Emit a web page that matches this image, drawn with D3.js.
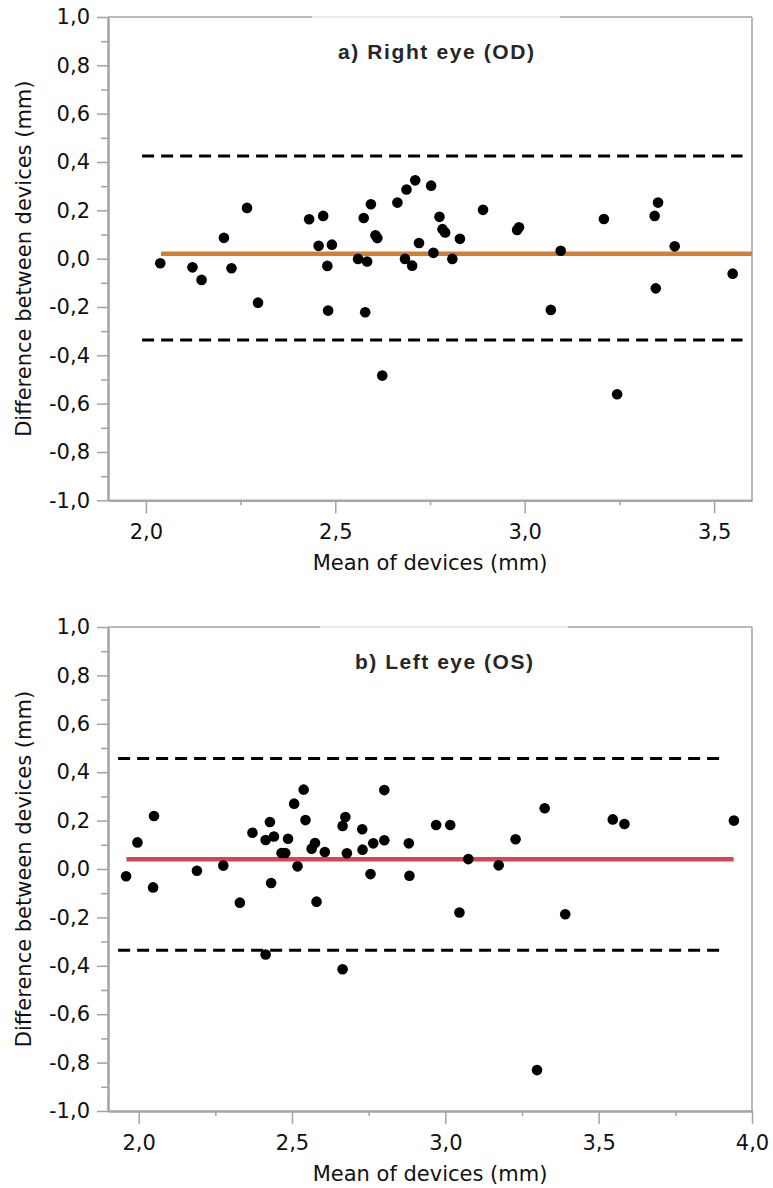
<!DOCTYPE html>
<html>
<head>
<meta charset="utf-8">
<script src="https://cdn.jsdelivr.net/npm/d3@7"></script>
<style>
  body { margin: 0; background: #fff; }
  svg { display: block; }
  .tick text { font-family: "DejaVu Sans", sans-serif; font-size: 21px; fill: #111; }
  .axis-title { font-family: "DejaVu Sans", sans-serif; font-size: 21px; fill: #111; }
  .panel-title { font-family: "Liberation Sans", Arial, sans-serif; font-size: 21px; font-weight: bold; fill: #262626; }
</style>
</head>
<body>
<div id="chart"></div>
<script>
// a) Right eye (OD): mean of devices vs difference between devices (mm)
const odMean = [2.038, 2.123, 2.147, 2.206, 2.226, 2.267, 2.296, 2.431, 2.468, 2.456,
  2.491, 2.479, 2.481, 2.560, 2.584, 2.575, 2.594, 2.606, 2.611, 2.579,
  2.624, 2.664, 2.688, 2.711, 2.753, 2.684, 2.703, 2.721, 2.759, 2.775,
  2.783, 2.790, 2.809, 2.829, 2.890, 2.980, 2.985, 3.095, 3.069, 3.209,
  3.343, 3.352, 3.346, 3.396, 3.549, 3.244];
const odDiff = [-0.019, -0.036, -0.088, 0.086, -0.040, 0.210, -0.182, 0.163, 0.177, 0.053,
  0.058, -0.030, -0.215, -0.001, -0.012, 0.168, 0.225, 0.097, 0.085, -0.222,
  -0.484, 0.232, 0.286, 0.324, 0.302, -0.001, -0.029, 0.065, 0.024, 0.173,
  0.122, 0.108, -0.001, 0.082, 0.202, 0.119, 0.130, 0.033, -0.212, 0.164,
  0.177, 0.232, -0.123, 0.051, -0.062, -0.561];
const odBias = [0.02];
const odLimits = [0.425, -0.337];
const odBiasRange = [2.04, 3.6];
const odLimitRange = [1.99, 3.575];

// b) Left eye (OS)
const osMean = [1.959, 1.996, 2.050, 2.047, 2.190, 2.276, 2.330, 2.371, 2.414, 2.414,
  2.428, 2.441, 2.432, 2.466, 2.478, 2.487, 2.507, 2.538, 2.544, 2.518,
  2.564, 2.575, 2.580, 2.607, 2.665, 2.674, 2.679, 2.665, 2.729, 2.730,
  2.765, 2.756, 2.801, 2.801, 2.881, 2.883, 2.970, 3.016, 3.075, 3.046,
  3.174, 3.229, 3.324, 3.391, 3.299, 3.546, 3.584, 3.941];
const osDiff = [-0.030, 0.110, 0.219, -0.076, -0.007, 0.014, -0.139, 0.150, -0.353, 0.120,
  0.194, 0.134, -0.058, 0.066, 0.066, 0.125, 0.270, 0.328, 0.202, 0.011,
  0.084, 0.107, -0.135, 0.070, 0.178, 0.215, 0.065, -0.414, 0.164, 0.080,
  0.106, -0.021, 0.326, 0.119, 0.106, -0.028, 0.182, 0.182, 0.041, -0.180,
  0.015, 0.123, 0.251, -0.187, -0.831, 0.205, 0.186, 0.200];
const osBias = [0.04];
const osLimits = [0.457, -0.336];
const osBiasRange = [1.96, 3.94];
const osLimitRange = [1.933, 3.895];

const yDomain = [-1.0, 1.0];
const yMajorTicks = [-1.0, -0.8, -0.6, -0.4, -0.2, 0.0, 0.2, 0.4, 0.6, 0.8, 1.0];
const yMinorTicks = [-0.9, -0.7, -0.5, -0.3, -0.1, 0.1, 0.3, 0.5, 0.7, 0.9];

const fmt = d3.formatLocale({ decimal: ",", thousands: ".", grouping: [3], currency: ["", ""], minus: "-" }).format(".1f");

const svg = d3.select("#chart").append("svg")
  .attr("width", 773)
  .attr("height", 1188);

function drawPanel(cfg) {
  const g = svg.append("g");
  const x = d3.scaleLinear().domain(cfg.xDomain).range([108, 752]);
  const y = d3.scaleLinear().domain(yDomain).range([cfg.bottom, cfg.top]);
  const axisColor = "#a3a3a3";

  // frame (top + right)
  g.append("line").attr("x1", 108).attr("x2", 752).attr("y1", cfg.top).attr("y2", cfg.top)
    .attr("stroke", axisColor).attr("stroke-width", 1.5);
  g.append("line").attr("x1", cfg.titleX - 124).attr("x2", cfg.titleX + 124).attr("y1", cfg.top).attr("y2", cfg.top)
    .attr("stroke", "#ececec").attr("stroke-width", 2);
  g.append("line").attr("x1", 752).attr("x2", 752).attr("y1", cfg.top).attr("y2", cfg.bottom)
    .attr("stroke", axisColor).attr("stroke-width", 1.5);

  // y axis
  g.append("g").attr("transform", "translate(108,0)")
    .call(d3.axisLeft(y).tickValues(yMajorTicks).tickFormat(fmt).tickSize(11).tickPadding(7).tickSizeOuter(0));
  g.append("g").attr("transform", "translate(108,0)")
    .call(d3.axisLeft(y).tickValues(yMinorTicks).tickFormat("").tickSize(7).tickSizeOuter(0));

  // x axis
  g.append("g").attr("transform", `translate(0,${cfg.bottom})`)
    .call(d3.axisBottom(x).tickValues(cfg.xMajor).tickFormat(fmt).tickSize(13).tickPadding(11).tickSizeOuter(0));
  g.append("g").attr("transform", `translate(0,${cfg.bottom})`)
    .call(d3.axisBottom(x).tickValues(cfg.xMinor).tickFormat("").tickSize(5).tickSizeOuter(0));

  g.selectAll(".domain").attr("stroke", axisColor).attr("stroke-width", 2);
  g.selectAll(".tick line").attr("stroke", axisColor).attr("stroke-width", 1.5);

  // limits of agreement
  g.selectAll(".loa")
    .data(cfg.limits)
    .enter()
    .append("line")
    .attr("class", "loa")
    .attr("x1", x(cfg.limitRange[0]))
    .attr("x2", x(cfg.limitRange[1]))
    .attr("y1", (d) => y(d))
    .attr("y2", (d) => y(d))
    .attr("stroke", "#000")
    .attr("stroke-width", 3)
    .attr("stroke-dasharray", "12,7");

  // mean difference
  g.selectAll(".bias")
    .data(cfg.bias)
    .enter()
    .append("line")
    .attr("class", "bias")
    .attr("x1", x(cfg.biasRange[0]))
    .attr("x2", x(cfg.biasRange[1]))
    .attr("y1", (d) => y(d))
    .attr("y2", (d) => y(d))
    .attr("stroke", cfg.biasColor)
    .attr("stroke-width", 4.5);

  // points
  g.selectAll(".dot")
    .data(d3.zip(cfg.mean, cfg.diff))
    .enter()
    .append("circle")
    .attr("class", "dot")
    .attr("cx", (d) => x(d[0]))
    .attr("cy", (d) => y(d[1]))
    .attr("r", 5.3)
    .attr("fill", "#000");

  // texts
  g.append("text")
    .attr("class", "panel-title")
    .attr("x", cfg.titleX)
    .attr("y", cfg.top + 42)
    .attr("text-anchor", "middle")
    .attr("textLength", cfg.titleLen)
    .attr("lengthAdjust", "spacing")
    .text(cfg.title);

  g.append("text")
    .attr("class", "axis-title")
    .attr("x", 430)
    .attr("y", cfg.bottom + 70)
    .attr("text-anchor", "middle")
    .text("Mean of devices (mm)");

  g.append("text")
    .attr("class", "axis-title")
    .attr("transform", `translate(31,${(cfg.top + cfg.bottom) / 2}) rotate(-90)`)
    .attr("text-anchor", "middle")
    .text("Difference between devices (mm)");
}

drawPanel({
  top: 17, bottom: 500.3,
  xDomain: [1.9, 3.6],
  xMajor: [2.0, 2.5, 3.0, 3.5],
  xMinor: [2.25, 2.75, 3.25],
  mean: odMean, diff: odDiff,
  bias: odBias, biasRange: odBiasRange, biasColor: "#d17f33",
  limits: odLimits, limitRange: odLimitRange,
  title: "a) Right eye (OD)", titleX: 436, titleLen: 196
});

drawPanel({
  top: 627, bottom: 1111,
  xDomain: [1.9, 4.0],
  xMajor: [2.0, 2.5, 3.0, 3.5, 4.0],
  xMinor: [2.25, 2.75, 3.25, 3.75],
  mean: osMean, diff: osDiff,
  bias: osBias, biasRange: osBiasRange, biasColor: "#d44652",
  limits: osLimits, limitRange: osLimitRange,
  title: "b) Left eye (OS)", titleX: 444, titleLen: 178
});
</script>
</body>
</html>
